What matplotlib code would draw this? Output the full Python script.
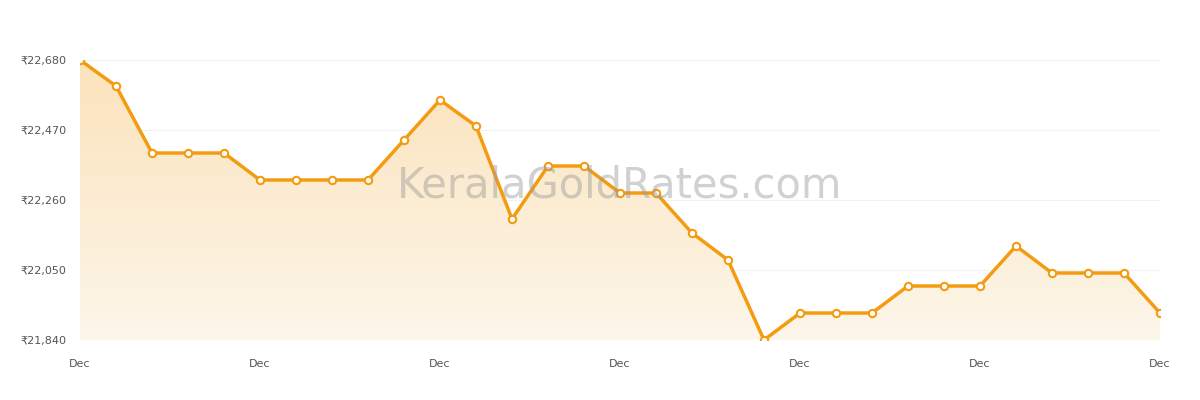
import matplotlib
matplotlib.use("Agg")
import matplotlib.pyplot as plt
import numpy as np
from matplotlib.colors import LinearSegmentedColormap

prices = [22680, 22602, 22401, 22401, 22401, 22320, 22320, 22320, 22320, 22440,
          22560, 22482, 22203, 22362, 22362, 22281, 22281, 22161, 22080, 21840,
          21921, 21921, 21921, 22002, 22002, 22002, 22122, 22041, 22041, 22041, 21921]
yticks = [21840, 22050, 22260, 22470, 22680]
ytick_labels = ["₹21,840", "₹22,050", "₹22,260", "₹22,470", "₹22,680"]
xtick_labels = ["Dec"] * 7

fig = plt.figure(figsize=(12, 4), dpi=100)
ax = fig.add_axes([80/1200, 60/400, 1080/1200, 280/400])
x = np.arange(len(prices))
ymin, ymax = 21840, 22680
ax.set_xlim(0, len(prices) - 1)
ax.set_ylim(ymin, ymax)

# gradient fill
cmap = LinearSegmentedColormap.from_list("g", ["#fdf6ea", "#fbe3bb"])
grad = np.linspace(0, 1, 256).reshape(-1, 1)
im = ax.imshow(grad, cmap=cmap, aspect="auto", origin="lower",
               extent=[0, len(prices) - 1, ymin, ymax], zorder=1)
poly = ax.fill_between(x, prices, ymin, color="none")
im.set_clip_path(poly.get_paths()[0], transform=ax.transData)

ax.plot(x, prices, color="#f39c12", lw=2.5, zorder=3)
ax.scatter(x, prices, s=28, facecolor="white", edgecolor="#f39c12", linewidth=1.5, zorder=4)

for t in yticks:
    ax.axhline(t, color="#f2f2f2", lw=0.8, zorder=0)
ax.set_yticks(yticks)
ax.set_yticklabels(ytick_labels, fontsize=8, color="#555555")
ax.set_xticks(np.arange(0, len(prices), 5))
ax.set_xticklabels(xtick_labels, fontsize=8, color="#555555")
ax.tick_params(length=0, pad=14)
ax.tick_params(axis="y", pad=10)
for s in ax.spines.values():
    s.set_visible(False)
ax.text(0.5, 0.55, "KeralaGoldRates.com", transform=ax.transAxes, ha="center",
        va="center", fontsize=30, color="#999999", alpha=0.45, zorder=5)
fig.savefig("out.png")
